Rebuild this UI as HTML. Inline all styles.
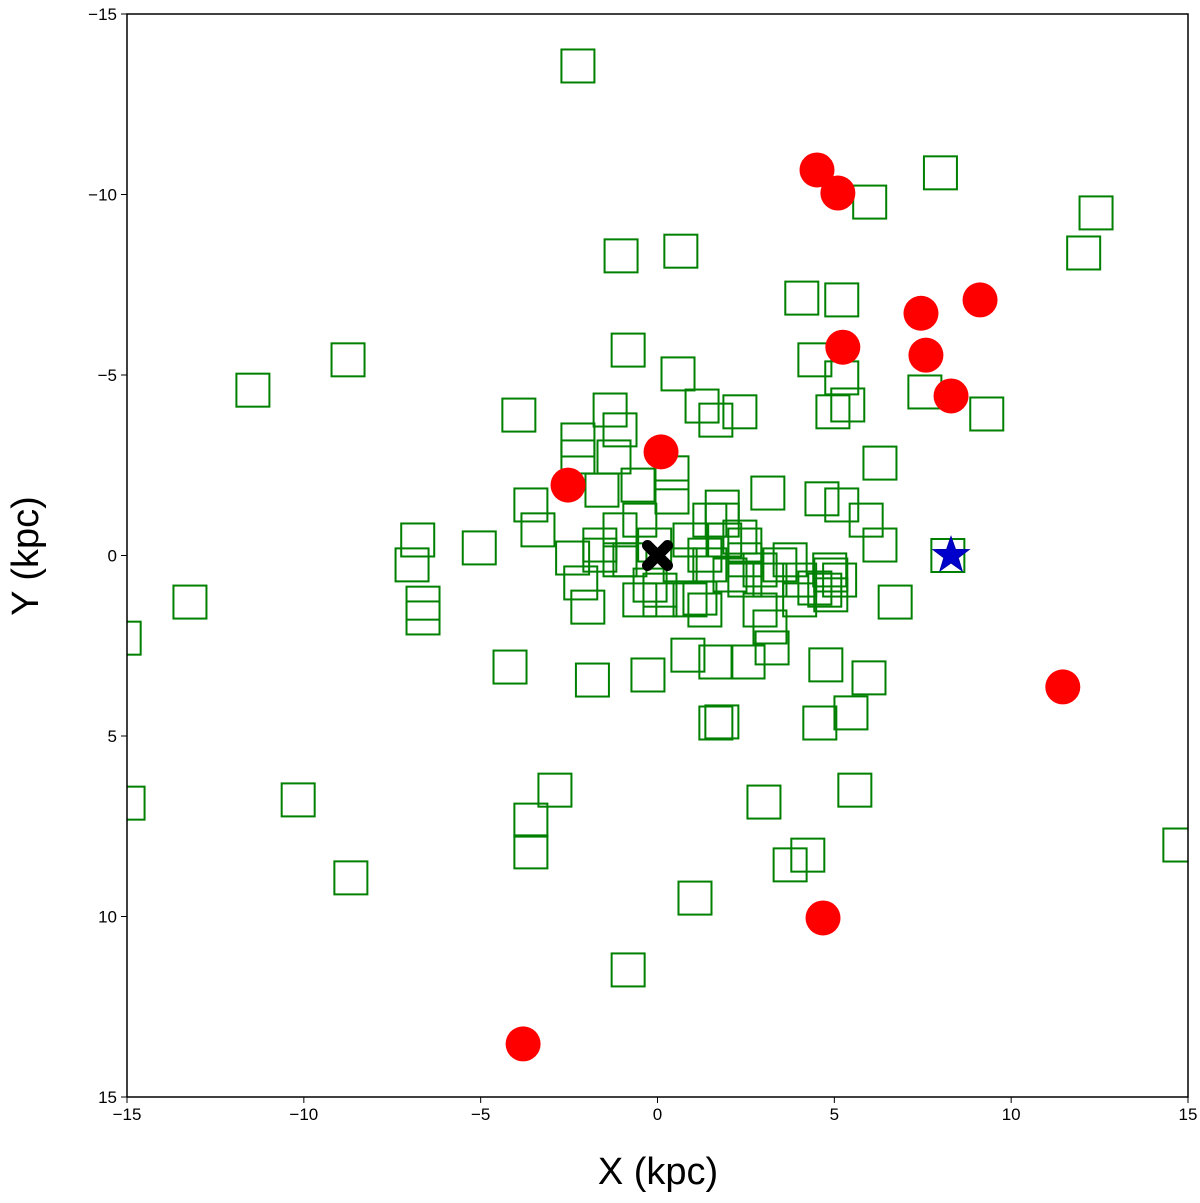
<!DOCTYPE html>
<html><head><meta charset="utf-8"><style>body{margin:0;background:#fff}svg{display:block}text{font-family:"Liberation Sans","DejaVu Sans",sans-serif}</style></head>
<body>
<svg id="chart" width="1200" height="1203">
<g id="plot"></g>
<g id="axes"></g>
<text x="658" y="1184" font-size="38" text-anchor="middle">X (kpc)</text>
<text transform="translate(38,556) rotate(-90)" font-size="38" text-anchor="middle">Y (kpc)</text>
</svg>
<script>
const sqX=[-2.25,8.0,6.0,12.4,12.05,-1.03,0.66,4.08,5.21,-0.83,-8.75,-11.44,0.58,4.45,5.21,7.56,9.31,-3.92,-1.34,1.26,1.65,2.33,4.96,5.38,-2.25,-1.06,6.29,3.12,4.65,5.21,5.9,6.29,-1.23,0.41,-0.55,-1.57,-3.58,-3.38,-6.78,-5.04,-6.94,-6.63,-6.63,-13.22,-15.08,-14.97,-4.17,-1.84,-0.27,0.86,1.65,2.56,3.24,4.76,5.98,5.47,4.59,1.65,1.82,6.72,5.58,3.01,-2.9,-3.58,-3.58,-10.16,-8.67,4.25,3.75,1.06,-0.83,14.77,8.21,-2.25,0.41,1.83,1.83,-2.4,-2.17,-1.97,2.33,-1.06,-0.5,-0.08,0.92,1.34,1.48,0.64,-0.21,0.07,1.2,1.48,2.47,2.9,3.18,3.75,4.02,4.87,5.15,4.73,4.02,2.9,3.18,2.47,2.05,2.47,-0.78,-1.63,0.07,0.92,1.34,1.9,-1.63,-0.5,-1.06,3.46,4.45,4.9,4.9];
const sqY=[-13.56,-10.6,-9.79,-9.49,-8.38,-8.3,-8.43,-7.13,-7.08,-5.69,-5.42,-4.58,-5.03,-5.42,-4.92,-4.53,-3.92,-3.89,-4.03,-4.14,-3.75,-3.98,-3.98,-4.17,-3.2,-3.48,-2.56,-1.73,-1.57,-1.4,-0.98,-0.29,-2.73,-2.29,-1.95,-1.81,-1.4,-0.71,-0.43,-0.21,0.26,1.32,1.73,1.29,2.29,6.86,3.09,3.45,3.31,2.76,2.95,2.95,2.56,3.03,3.39,4.36,4.64,4.64,4.61,1.29,6.5,6.83,6.5,7.33,8.21,6.77,8.93,8.3,8.57,9.49,11.48,8.02,0.0,-2.73,-1.62,-1.34,-0.98,0.07,0.76,1.43,-0.51,-0.71,-0.98,-0.29,-0.43,-0.01,-0.98,0.26,0.82,1.23,1.18,0.26,0.12,0.4,0.68,0.12,0.68,0.4,0.68,0.96,1.23,1.51,1.98,0.68,0.54,-0.29,0.12,-0.01,0.96,1.23,1.51,-0.43,-0.29,1.23,0.12,0.26,0.9,0.54,1.09];
const cX=[4.51,5.1,7.45,9.12,5.24,7.59,8.3,0.1,-2.53,11.46,4.68,-3.8];
const cY=[-10.68,-10.04,-6.71,-7.08,-5.77,-5.55,-4.42,-2.87,-1.95,3.64,10.04,13.53];
const starX=[8.3], starY=[0];
const crossX=[0], crossY=[0];
const xTicks=[-15,-10,-5,0,5,10,15];
const yTicks=[-15,-10,-5,0,5,10,15];
const L=127,R=1188,T=14,B=1097;
const sx=v=>L+(v+15)/30*(R-L), sy=v=>T+(v+15)/30*(B-T);
const NS='http://www.w3.org/2000/svg';
const plot=document.getElementById('plot'), axes=document.getElementById('axes');
function mk(tag,at,parent){const e=document.createElementNS(NS,tag);for(const k in at)e.setAttribute(k,at[k]);parent.appendChild(e);return e;}
const cp=mk('clipPath',{id:'cp'},plot);mk('rect',{x:L,y:T,width:R-L,height:B-T},cp);
const g=mk('g',{'clip-path':'url(#cp)'},plot);
for(let i=0;i<sqX.length;i++){const e=mk('rect',{x:sx(sqX[i])-16.5,y:sy(sqY[i])-16.5,width:33,height:33,fill:'none',stroke:'#008000','stroke-width':2},g);

}
for(let i=0;i<cX.length;i++){const e=mk('circle',{cx:sx(cX[i]),cy:sy(cY[i]),r:17.5,fill:'#ff0000'},g);

}
for(let i=0;i<starX.length;i++){const cx=sx(starX[i]),cy=sy(starY[i]);let p=[];for(let k=0;k<10;k++){const r=k%2?7.5:19,a=-Math.PI/2+k*Math.PI/5;p.push((cx+r*Math.cos(a)).toFixed(1)+','+(cy+r*Math.sin(a)).toFixed(1));}
const e=mk('polygon',{points:p.join(' '),fill:'#0000cc',stroke:'#0000aa','stroke-width':1},g);

}
for(let i=0;i<crossX.length;i++){const cx=sx(crossX[i]),cy=sy(crossY[i]);const e=mk('path',{d:`M${cx-10},${cy-10}L${cx+10},${cy+10}M${cx+10},${cy-10}L${cx-10},${cy+10}`,stroke:'#000',"stroke-width":11,'stroke-linecap':'round'},g);

}
const fr=mk('rect',{x:L,y:T,width:R-L,height:B-T,fill:'none',stroke:'#000','stroke-width':1.5},axes);


xTicks.forEach(t=>{const x=sx(t);mk('line',{x1:x,x2:x,y1:B,y2:B+6,stroke:'#000'},axes);const e=mk('text',{x:x,y:B+23,'font-size':17,'text-anchor':'middle'},axes);e.textContent=t<0?'\u2212'+(-t):t;

});
yTicks.forEach(t=>{const y=sy(t);mk('line',{x1:L-6,x2:L,y1:y,y2:y,stroke:'#000'},axes);const e=mk('text',{x:L-10,y:y+6,'font-size':17,'text-anchor':'end'},axes);e.textContent=t<0?'\u2212'+(-t):t;

});
</script>
</body></html>
